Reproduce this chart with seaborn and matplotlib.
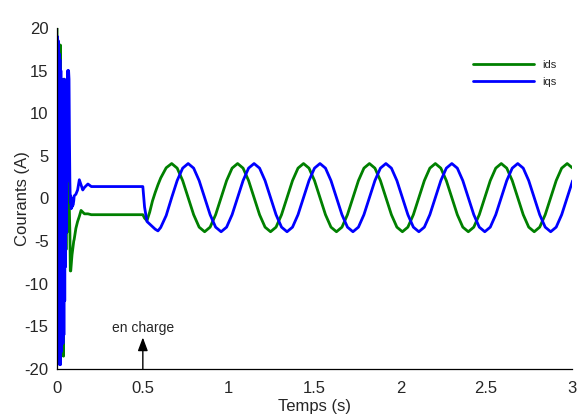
import pandas as pd
import matplotlib
matplotlib.use("Agg")
import matplotlib.pyplot as plt
import seaborn as sns

# temps (s)
temps = [0.0000, 0.0025, 0.0050, 0.0075, 0.0100, 0.0125, 0.0150, 0.0175, 0.0200, 0.0225,
         0.0250, 0.0275, 0.0300, 0.0325, 0.0350, 0.0375, 0.0400, 0.0425, 0.0450, 0.0475,
         0.0500, 0.0525, 0.0550, 0.0575, 0.0600, 0.0625, 0.0650, 0.0675, 0.0700, 0.0725,
         0.0750, 0.0775, 0.0800, 0.0825, 0.0850, 0.0875, 0.0900, 0.0925, 0.0950, 0.0975,
         0.100, 0.110, 0.120, 0.130, 0.140, 0.150, 0.160, 0.180, 0.200, 0.300,
         0.400, 0.500, 0.510, 0.524, 0.540, 0.556, 0.572, 0.588, 0.604, 0.636,
         0.668, 0.700, 0.732, 0.764, 0.796, 0.828, 0.860, 0.892, 0.924, 0.956, 0.988, 1.020,
         1.052, 1.084, 1.116, 1.148, 1.180, 1.212, 1.244, 1.276, 1.308, 1.340, 1.372, 1.404,
         1.436, 1.468, 1.500, 1.532, 1.564, 1.596, 1.628, 1.660, 1.692, 1.724, 1.756, 1.788,
         1.820, 1.852, 1.884, 1.916, 1.948, 1.980, 2.012, 2.044, 2.076, 2.108, 2.140, 2.172,
         2.204, 2.236, 2.268, 2.300, 2.332, 2.364, 2.396, 2.428, 2.460, 2.492, 2.524, 2.556,
         2.588, 2.620, 2.652, 2.684, 2.716, 2.748, 2.780, 2.812, 2.844, 2.876, 2.908, 2.940,
         2.972, 3.004]

# courant ids (A)
ids = [20.0, -14.0, 14.0, -10.0, 12.0, -12.0, 18.0, -12.0, 18.0, -14.0,
       10.0, -15.0, 8.0, -16.0, 12.0, -18.5, 14.0, -10.0, 13.0, -8.0,
       10.0, -6.0, 8.0, -4.0, 4.0, -3.0, 2.0, -1.0, 0.5, -2.0,
       -4.0, -8.5, -8.5, -7.8, -7.2, -6.6, -6.2, -5.8, -5.4, -5.0,
       -4.8, -3.5, -2.7, -2.1, -1.4, -1.6, -1.8, -1.8, -1.9, -1.9,
       -1.9, -1.9, -2.3, -2.6, -1.6, -0.3, 0.7, 1.6, 2.4, 3.6,
       4.1, 3.56, 2.1, 0.1, -1.9, -3.36, -3.9, -3.36, -1.9, 0.1, 2.1, 3.56,
       4.1, 3.56, 2.1, 0.1, -1.9, -3.36, -3.9, -3.36, -1.9, 0.1, 2.1, 3.56,
       4.1, 3.56, 2.1, 0.1, -1.9, -3.36, -3.9, -3.36, -1.9, 0.1, 2.1, 3.56,
       4.1, 3.56, 2.1, 0.1, -1.9, -3.36, -3.9, -3.36, -1.9, 0.1, 2.1, 3.56,
       4.1, 3.56, 2.1, 0.1, -1.9, -3.36, -3.9, -3.36, -1.9, 0.1, 2.1, 3.56,
       4.1, 3.56, 2.1, 0.1, -1.9, -3.36, -3.9, -3.36, -1.9, 0.1, 2.1, 3.56,
       4.1, 3.56]

# courant iqs (A)
iqs = [0.0, 19.0, -14.0, 18.5, -17.0, 17.0, -19.5, 16.3, -19.5, 15.0,
       -18.0, 14.0, -17.0, 13.0, -17.0, 12.0, -16.0, 14.0, -12.0, 13.0,
       -8.0, 12.0, -4.0, 14.0, 2.0, 15.0, 10.0, 15.0, 14.0, 7.0,
       2.0, -0.5, 0.3, -1.2, -0.3, -1.0, 0.0, -0.8, -0.5, -0.3,
       0.3, 0.5, 1.0, 2.2, 1.6, 1.0, 1.3, 1.7, 1.4, 1.4,
       1.4, 1.4, -1.0, -2.7, -3.0, -3.3, -3.6, -3.8, -3.4, -2.0,
       0.1, 2.1, 3.56, 4.1, 3.56, 2.1, 0.1, -1.9, -3.36, -3.9, -3.36, -1.9,
       0.1, 2.1, 3.56, 4.1, 3.56, 2.1, 0.1, -1.9, -3.36, -3.9, -3.36, -1.9,
       0.1, 2.1, 3.56, 4.1, 3.56, 2.1, 0.1, -1.9, -3.36, -3.9, -3.36, -1.9,
       0.1, 2.1, 3.56, 4.1, 3.56, 2.1, 0.1, -1.9, -3.36, -3.9, -3.36, -1.9,
       0.1, 2.1, 3.56, 4.1, 3.56, 2.1, 0.1, -1.9, -3.36, -3.9, -3.36, -1.9,
       0.1, 2.1, 3.56, 4.1, 3.56, 2.1, 0.1, -1.9, -3.36, -3.9, -3.36, -1.9,
       0.1, 2.1]

xticks = [0, 0.5, 1, 1.5, 2, 2.5, 3]
xticklabels = ["0", "0.5", "1", "1.5", "2", "2.5", "3"]
yticks = [-20, -15, -10, -5, 0, 5, 10, 15, 20]

sns.set_style("white")
plt.rcParams["font.family"] = ["Liberation Sans", "DejaVu Sans"]
plt.rcParams["axes.unicode_minus"] = False

df = pd.DataFrame({
    "t": temps * 2,
    "courant": ids + iqs,
    "serie": ["ids"] * len(ids) + ["iqs"] * len(iqs),
})

fig = plt.figure(figsize=(5.77, 4.16), dpi=100)
ax = fig.add_axes([0.0988, 0.113, 0.8925, 0.8197])
sns.lineplot(data=df, x="t", y="courant", hue="serie", estimator=None, sort=False,
             palette={"ids": "#008000", "iqs": "#0000ff"}, linewidth=2, ax=ax)

ax.set_xlim(0, 3)
ax.set_ylim(-20, 20)
ax.set_xticks(xticks)
ax.set_xticklabels(xticklabels)
ax.set_yticks(yticks)
ax.tick_params(direction="in", length=4, width=0.8, labelsize=12, color="black")
ax.tick_params(axis="x", pad=9)
ax.tick_params(axis="y", pad=6)
for s in ["top", "right"]:
    ax.spines[s].set_visible(False)
for s in ["left", "bottom"]:
    ax.spines[s].set_color("black")
    ax.spines[s].set_linewidth(0.9)
ax.set_xlabel("Temps (s)", fontsize=12, labelpad=2)
ax.set_ylabel("Courants (A)", fontsize=12, labelpad=-4)

# fleche "en charge"
ax.annotate("", xy=(0.5, -16.3), xytext=(0.5, -20),
            arrowprops=dict(arrowstyle="-|>,head_length=0.8,head_width=0.3",
                            color="black", lw=1, shrinkA=0, shrinkB=0))
ax.text(0.5, -15.2, "en charge", fontsize=10, ha="center", va="center")

leg = ax.legend(loc="upper right", bbox_to_anchor=(0.99, 0.935), frameon=False,
                fontsize=8, handlelength=5.5, labelspacing=0.65, title=None)

plt.savefig("out.png", dpi=100)
